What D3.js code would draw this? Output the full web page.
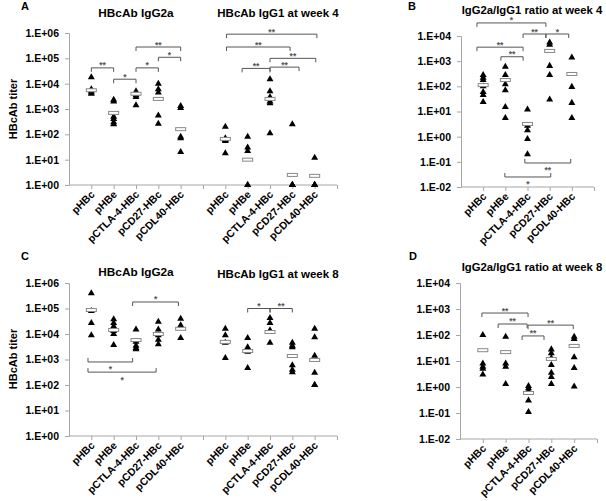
<!DOCTYPE html>
<html><head><meta charset="utf-8">
<script src="https://cdn.jsdelivr.net/npm/d3@7"></script>
<style>
body{margin:0;background:#fff}
text{font-family:"Liberation Sans",Arial,sans-serif;font-weight:bold;fill:#000}
</style>
</head><body>
<svg id="chart" width="606" height="501"></svg>
<script>
// ---------- DATA ----------
const categories = ["pHBc", "pHBe", "pCTLA-4-HBc", "pCD27-HBc", "pCDL40-HBc"];

const titerTickValues = [1, 10, 100, 1e3, 1e4, 1e5, 1e6];
const titerTickLabels = ["1.E+00", "1.E+01", "1.E+02", "1.E+03", "1.E+04", "1.E+05", "1.E+06"];
const ratioTickValues = [0.01, 0.1, 1, 10, 100, 1e3, 1e4];
const ratioTickLabels = ["1.E-02", "1.E-01", "1.E+00", "1.E+01", "1.E+02", "1.E+03", "1.E+04"];

// Week 4
const w4IgG2a = [[18000, 6000, 5000, 4500, 4000], [2300, 2000, 500, 400, 300, 250], [5000, 4000, 3500, 3000, 1400], [10000, 6000, 4500, 550, 260], [1300, 1100, 80, 70, 20]];
const w4IgG2aMean = [5500, 700, 4000, 2500, 160];
const w4IgG1 = [[200, 70, 60, 55, 18], [80, 30, 22, 1, 1], [15000, 5000, 3000, 2000, 1700, 110], [250, 1, 1, 1, 1], [12, 1, 1, 1, 1]];
const w4IgG1Mean = [66, 10, 2500, 2.5, 2.3];
const w4Ratio = [[280, 220, 180, 100, 60, 45, 24], [600, 280, 120, 70, 15, 5.5], [12, 2.7, 1.8, 0.8, 0.2], [5500, 4500, 650, 280, 30], [1400, 95, 22, 5.5]];
const w4RatioMean = [112, 178, 3.2, 2550, 310];

// Week 8
const w8IgG2a = [[400000, 80000, 27000, 9000], [38000, 27000, 20000, 13000, 10000, 3700], [15000, 5000, 3500, 2800, 2500], [30000, 15000, 9000, 6000, 4000], [40000, 22000, 18000, 7000]];
const w8IgG2aMean = [87000, 14400, 5800, 10000, 16000];
const w8IgG1 = [[16000, 9000, 4500, 1150], [7000, 3000, 2600, 2000, 460], [42000, 27000, 14000, 12000, 4500], [4500, 3500, 3000, 600, 400, 320], [16000, 7500, 1400, 300, 100, 100]];
const w8IgG1Mean = [4900, 2150, 12000, 1370, 960];
const w8Ratio = [[100, 8, 6, 5, 3], [85, 8, 6, 1.3], [1.1, 0.9, 0.7, 0.3, 0.11], [28, 20, 13, 7, 3.5, 2.4, 1.3], [85, 70, 14, 5.4, 1.05]];
const w8RatioMean = [26, 22, 0.59, 12, 38];

// Significance brackets: [from, to, level, label, ends]
const bracketsA = [
  [1, 2, 4.2e4, "**", "down"], [2, 3, 1.5e4, "*", "down"], [3, 4, 4.2e4, "*", "down"],
  [4, 5, 1.1e5, "*", "down"], [3, 5, 2.8e5, "**", "down"],
  [7.05, 11.1, 9e5, "**", "down"], [7.05, 9.9, 2.8e5, "**", "down"], [9, 11.05, 1e5, "**", "down"],
  [9, 10.3, 4.5e4, "**", "down"], [7.75, 9, 4.0e4, "**", "down"]
];
const bracketsB = [
  [0.72, 3.83, 3.3e4, "*", "down"], [2.8, 3.83, 1.2e4, "**", "down"], [3.83, 4.86, 1.2e4, "*", "down"],
  [0.72, 2.8, 3.6e3, "**", "down"], [1.8, 2.8, 1.5e3, "**", "down"],
  [2.88, 4.95, 0.09, "**", "up"], [1.98, 4.05, 0.025, "*", "up"]
];
const bracketsC = [
  [2.85, 4.9, 1.8e5, "*", "down"], [0.85, 2.85, 800, "*", "up"], [0.85, 3.9, 320, "*", "up"],
  [8, 9, 1e5, "*", "down"], [9, 10, 1e5, "**", "down"]
];
const bracketsD = [
  [0.96, 2.98, 700, "**", "down"], [1.67, 2.94, 265, "**", "down"],
  [2.98, 4.96, 240, "**", "down"], [2.72, 3.68, 92, "**", "down"]
];

// ---------- DRAW ----------
const svg = d3.select("#chart");
const axisColor = "#a6a6a6";
const bracketColor = "#555";

function panel(cfg) {
  const x = d3.scaleLinear().domain(cfg.xDomain).range(cfg.xRange);
  const y = d3.scaleLog().domain(cfg.yDomain).range(cfg.yRange);
  const g = svg.append("g");

  // y axis
  const yAx = d3.axisLeft(y).tickValues(cfg.yTicks).tickSize(4)
    .tickFormat((d, i) => cfg.yLabels[i]);
  const ya = g.append("g").attr("transform", `translate(${cfg.xRange[0]},0)`).call(yAx);
  ya.select(".domain").attr("stroke", axisColor);
  ya.selectAll(".tick line").attr("stroke", axisColor);
  ya.selectAll(".tick text").attr("x", -10).style("font-size", "10.5px").style("font-weight", "bold")
    .attr("fill", "#000").style("font-family", '"Liberation Sans",Arial,sans-serif');

  // x axis
  const xt = d3.range(cfg.xDomain[0] + 1, cfg.xDomain[1] + 1);
  const xAx = d3.axisBottom(x).tickValues(xt).tickSize(4).tickFormat("");
  const xa = g.append("g").attr("transform", `translate(0,${cfg.yRange[0]})`).call(xAx);
  xa.select(".domain").attr("stroke", axisColor).attr("d", `M${cfg.xRange[0]},0H${cfg.xRange[1]}`);
  xa.selectAll(".tick line").attr("stroke", axisColor);

  // category labels
  cfg.series.forEach(s => {
    categories.forEach((c, i) => {
      const px = x(s.offset + i + 1);
      g.append("text")
        .attr("transform", `translate(${px + 4},${cfg.yRange[0] + 10}) rotate(-45)`)
        .attr("text-anchor", "end").style("font-size", "10.5px").text(c);
    });
  });

  // points + means
  const tri = d3.symbol().type(d3.symbolTriangle).size(21);
  cfg.series.forEach(s => {
    s.values.forEach((vals, i) => {
      const px = x(s.offset + i + 1);
      g.selectAll(null).data(vals).enter().append("path")
        .attr("d", tri).attr("fill", "#000")
        .attr("transform", d => `translate(${px},${y(d)})`);
    });
    s.means.forEach((m, i) => {
      const px = x(s.offset + i + 1);
      g.append("rect").attr("x", px - 5).attr("y", y(m) - 1.5).attr("width", 10).attr("height", 3)
        .attr("fill", "#fff").attr("stroke", "#888").attr("stroke-width", 1);
    });
  });

  // brackets
  cfg.brackets.forEach(b => {
    const x1 = x(b[0]), x2 = x(b[1]), yy = y(b[2]);
    const t = b[4] === "down" ? 4 : -4;
    g.append("path").attr("d", `M${x1},${yy + t}V${yy}H${x2}V${yy + t}`)
      .attr("fill", "none").attr("stroke", bracketColor).attr("stroke-width", 1);
    g.append("text").attr("x", (x1 + x2) / 2).attr("y", b[4] === "down" ? yy + 0.5 : yy + 10.5)
      .attr("text-anchor", "middle").style("font-size", "8.5px").style("fill", "#555").text(b[3]);
  });

  // titles
  cfg.titles.forEach(t => {
    g.append("text").attr("x", t[1]).attr("y", t[2]).attr("text-anchor", "middle")
      .style("font-size", t[3] + "px").text(t[0]);
  });
  g.append("text").attr("x", cfg.letter[1]).attr("y", cfg.letter[2]).style("font-size", "11px").text(cfg.letter[0]);
  if (cfg.yTitle) {
    g.append("text").attr("transform", `translate(${cfg.yTitle[1]},${cfg.yTitle[2]}) rotate(-90)`)
      .attr("text-anchor", "middle").style("font-size", "11px").text(cfg.yTitle[0]);
  }
}

panel({
  xDomain: [0, 12], xRange: [69, 337], yDomain: [1, 1e6], yRange: [185, 33],
  yTicks: titerTickValues, yLabels: titerTickLabels,
  series: [{offset: 0, values: w4IgG2a, means: w4IgG2aMean}, {offset: 6, values: w4IgG1, means: w4IgG1Mean}],
  brackets: bracketsA,
  titles: [["HBcAb IgG2a", 136, 17, 11.8], ["HBcAb IgG1 at week 4", 278, 17, 11.5]],
  letter: ["A", 21, 10], yTitle: ["HBcAb titer", 17, 109]
});
panel({
  xDomain: [0, 6], xRange: [461, 594], yDomain: [0.01, 1e4], yRange: [187, 36],
  yTicks: ratioTickValues, yLabels: ratioTickLabels,
  series: [{offset: 0, values: w4Ratio, means: w4RatioMean}],
  brackets: bracketsB,
  titles: [["IgG2a/IgG1 ratio at week 4", 532, 13.5, 11.3]],
  letter: ["B", 408, 10]
});
panel({
  xDomain: [0, 12], xRange: [69, 337], yDomain: [1, 1e6], yRange: [436, 283],
  yTicks: titerTickValues, yLabels: titerTickLabels,
  series: [{offset: 0, values: w8IgG2a, means: w8IgG2aMean}, {offset: 6, values: w8IgG1, means: w8IgG1Mean}],
  brackets: bracketsC,
  titles: [["HBcAb IgG2a", 136, 276, 11.8], ["HBcAb IgG1 at week 8", 278, 278, 11.5]],
  letter: ["C", 21, 260], yTitle: ["HBcAb titer", 17, 359]
});
panel({
  xDomain: [0, 6], xRange: [460, 597], yDomain: [0.01, 1e4], yRange: [439, 283],
  yTicks: ratioTickValues, yLabels: ratioTickLabels,
  series: [{offset: 0, values: w8Ratio, means: w8RatioMean}],
  brackets: bracketsD,
  titles: [["IgG2a/IgG1 ratio at week 8", 532, 271, 11.3]],
  letter: ["D", 409, 260]
});
</script>
</body></html>
